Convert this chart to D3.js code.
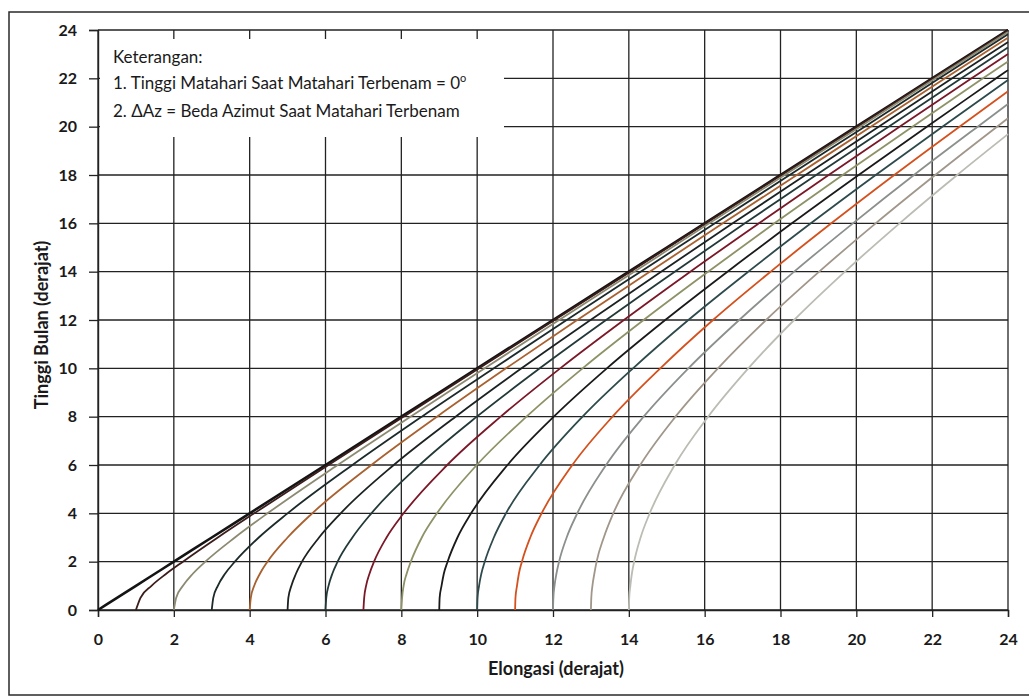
<!DOCTYPE html>
<html>
<head>
<meta charset="utf-8">
<script src="https://cdn.jsdelivr.net/npm/d3@7"></script>
<style>
  html, body { margin: 0; padding: 0; background: #fff; }
  svg { display: block; }
  text { font-family: Lato, "Open Sans", "Liberation Sans", sans-serif; fill: #1a1a1a; }
</style>
</head>
<body>
<svg id="chart" width="1029" height="700"></svg>
<script>
// ---------- data ----------
const deltaAz = [0, 1, 2, 3, 4, 5, 6, 7, 8, 9, 10, 11, 12, 13, 14];
// altitude (Tinggi Bulan) sample points, degrees
const altSamples = [0, 0.5, 1, 1.5, 2, 3, 4, 6, 8, 10, 12, 14, 16, 18, 20, 22];
// elongation read at each altitude sample, one row per ΔAz curve
const elongAt = [
  [0, 0.5, 1, 1.5, 2, 3, 4, 6, 8, 10, 12, 14, 16, 18, 20, 22],
  [1, 1.12, 1.41, 1.80, 2.24, 3.16, 4.12, 6.08, 8.06, 10.05, 12.04, 14.04, 16.03, 18.03, 20.02, 22.02],
  [2, 2.06, 2.24, 2.50, 2.83, 3.61, 4.47, 6.32, 8.24, 10.20, 12.16, 14.14, 16.12, 18.11, 20.10, 22.09],
  [3, 3.04, 3.16, 3.35, 3.61, 4.24, 5.00, 6.71, 8.54, 10.44, 12.36, 14.31, 16.27, 18.24, 20.22, 22.19],
  [4, 4.03, 4.12, 4.27, 4.47, 5.00, 5.65, 7.21, 8.94, 10.76, 12.64, 14.55, 16.48, 18.43, 20.38, 22.34],
  [5, 5.02, 5.10, 5.22, 5.38, 5.83, 6.40, 7.80, 9.43, 11.17, 12.99, 14.85, 16.74, 18.66, 20.59, 22.53],
  [6, 6.02, 6.08, 6.18, 6.32, 6.71, 7.21, 8.48, 9.99, 11.65, 13.40, 15.21, 17.06, 18.94, 20.85, 22.77],
  [7, 7.02, 7.07, 7.16, 7.28, 7.61, 8.06, 9.21, 10.62, 12.19, 13.87, 15.62, 17.43, 19.27, 21.14, 23.04],
  [8, 8.02, 8.06, 8.14, 8.25, 8.54, 8.94, 9.99, 11.30, 12.78, 14.39, 16.09, 17.84, 19.64, 21.48, 23.34],
  [9, 9.01, 9.06, 9.12, 9.22, 9.48, 9.84, 10.80, 12.02, 13.42, 14.96, 16.60, 18.30, 20.06, 21.86, 23.69],
  [10, 10.01, 10.05, 10.11, 10.20, 10.44, 10.76, 11.65, 12.78, 14.11, 15.57, 17.15, 18.80, 20.51, 22.27],
  [11, 11.01, 11.05, 11.10, 11.18, 11.40, 11.70, 12.51, 13.57, 14.83, 16.22, 17.74, 19.34, 21.00, 22.72],
  [12, 12.01, 12.04, 12.09, 12.16, 12.36, 12.64, 13.40, 14.39, 15.57, 16.91, 18.36, 19.91, 21.52, 23.20],
  [13, 13.01, 13.04, 13.09, 13.15, 13.34, 13.59, 14.30, 15.23, 16.35, 17.62, 19.02, 20.51, 22.08, 23.71],
  [14, 14.01, 14.04, 14.08, 14.14, 14.31, 14.55, 15.21, 16.09, 17.15, 18.36, 19.70, 21.14, 22.66]
];
// altitude where each curve reaches elongation 24
const endElong = 24;
const endAlt = [24, 23.98, 23.92, 23.82, 23.68, 23.50, 23.28, 23.01, 22.70, 22.34, 21.93, 21.46, 20.94, 20.35, 19.69];
const xTicks = [0, 2, 4, 6, 8, 10, 12, 14, 16, 18, 20, 22, 24];
const yTicks = [0, 2, 4, 6, 8, 10, 12, 14, 16, 18, 20, 22, 24];
const curveColors = ["#141414", "#3b1e1c", "#8d8a72", "#1d2a2a", "#a8612f", "#1c2222", "#233838",
                     "#7a1828", "#8e9266", "#1a1a1a", "#2e4a4c", "#d4511e", "#8b908c", "#a0968a", "#bcbcb4"];
const legendLines = ["Keterangan:", "1. Tinggi Matahari Saat Matahari Terbenam = 0", "2. ΔAz = Beda Azimut Saat Matahari Terbenam"];
const xTitle = "Elongasi (derajat)";
const yTitle = "Tinggi Bulan (derajat)";

// ---------- layout ----------
const svg = d3.select("#chart");
const x = d3.scaleLinear().domain([0, 24]).range([98, 1008]);
const y = d3.scaleLinear().domain([0, 24]).range([610, 30]);

// outer border of the figure
svg.append("rect").attr("x", 9).attr("y", 12).attr("width", 1040).attr("height", 683)
  .attr("fill", "none").attr("stroke", "#2a2a2a").attr("stroke-width", 1.5);

const grid = svg.append("g");
grid.selectAll("line.v").data(xTicks).join("line")
  .attr("x1", d => x(d)).attr("x2", d => x(d))
  .attr("y1", y(0)).attr("y2", y(24))
  .attr("stroke", "#222").attr("stroke-width", 1.3);
grid.selectAll("line.h").data(yTicks).join("line")
  .attr("x1", x(0)).attr("x2", x(24))
  .attr("y1", d => y(d)).attr("y2", d => y(d))
  .attr("stroke", "#222").attr("stroke-width", 1.3);

// axes with outward ticks
const xAxis = d3.axisBottom(x).tickValues(xTicks).tickSize(7).tickPadding(17).tickFormat(d3.format("d"));
const yAxis = d3.axisLeft(y).tickValues(yTicks).tickSize(9).tickPadding(12).tickFormat(d3.format("d"));
const gx = svg.append("g").attr("transform", `translate(0,${y(0)})`).call(xAxis);
const gy = svg.append("g").attr("transform", `translate(${x(0)},0)`).call(yAxis);
[gx, gy].forEach(g => {
  g.select(".domain").attr("stroke", "#222").attr("stroke-width", 1.4);
  g.selectAll(".tick line").attr("stroke", "#222").attr("stroke-width", 1.3);
  g.selectAll(".tick text").attr("font-family", "Lato, 'Open Sans', sans-serif")
    .attr("font-size", 16).attr("font-weight", "bold").attr("fill", "#1a1a1a");
});

// legend box (white, hides grid behind it)
svg.append("rect").attr("x", 100).attr("y", 39).attr("width", 404).attr("height", 98).attr("fill", "#fff");
const leg = svg.append("text").attr("font-size", 17);
leg.append("tspan").attr("x", 113).attr("y", 63).text(legendLines[0]);
leg.append("tspan").attr("x", 113).attr("y", 89).text(legendLines[1]);
leg.append("tspan").attr("dy", -7).attr("font-size", 11).text("o");
leg.append("tspan").attr("x", 113).attr("y", 117).text(legendLines[2]);

// curves
const line = d3.line().x(d => x(d[0])).y(d => y(d[1])).curve(d3.curveMonotoneX);
const curveData = deltaAz.map((a, i) => {
  const pts = elongAt[i].map((e, j) => [e, altSamples[j]]);
  pts.push([endElong, endAlt[i]]);
  return pts;
});
svg.append("g").selectAll("path").data(curveData).join("path")
  .attr("d", line)
  .attr("fill", "none")
  .attr("stroke", (d, i) => curveColors[i])
  .attr("stroke-width", (d, i) => i === 0 ? 2.6 : 1.8);

// axis titles
svg.append("text").attr("x", 556).attr("y", 675).attr("text-anchor", "middle")
  .attr("font-size", 18).attr("font-weight", "bold").text(xTitle);
svg.append("text").attr("transform", "translate(48,325) rotate(-90)").attr("text-anchor", "middle")
  .attr("font-size", 18).attr("font-weight", "bold").text(yTitle);
</script>
</body>
</html>
